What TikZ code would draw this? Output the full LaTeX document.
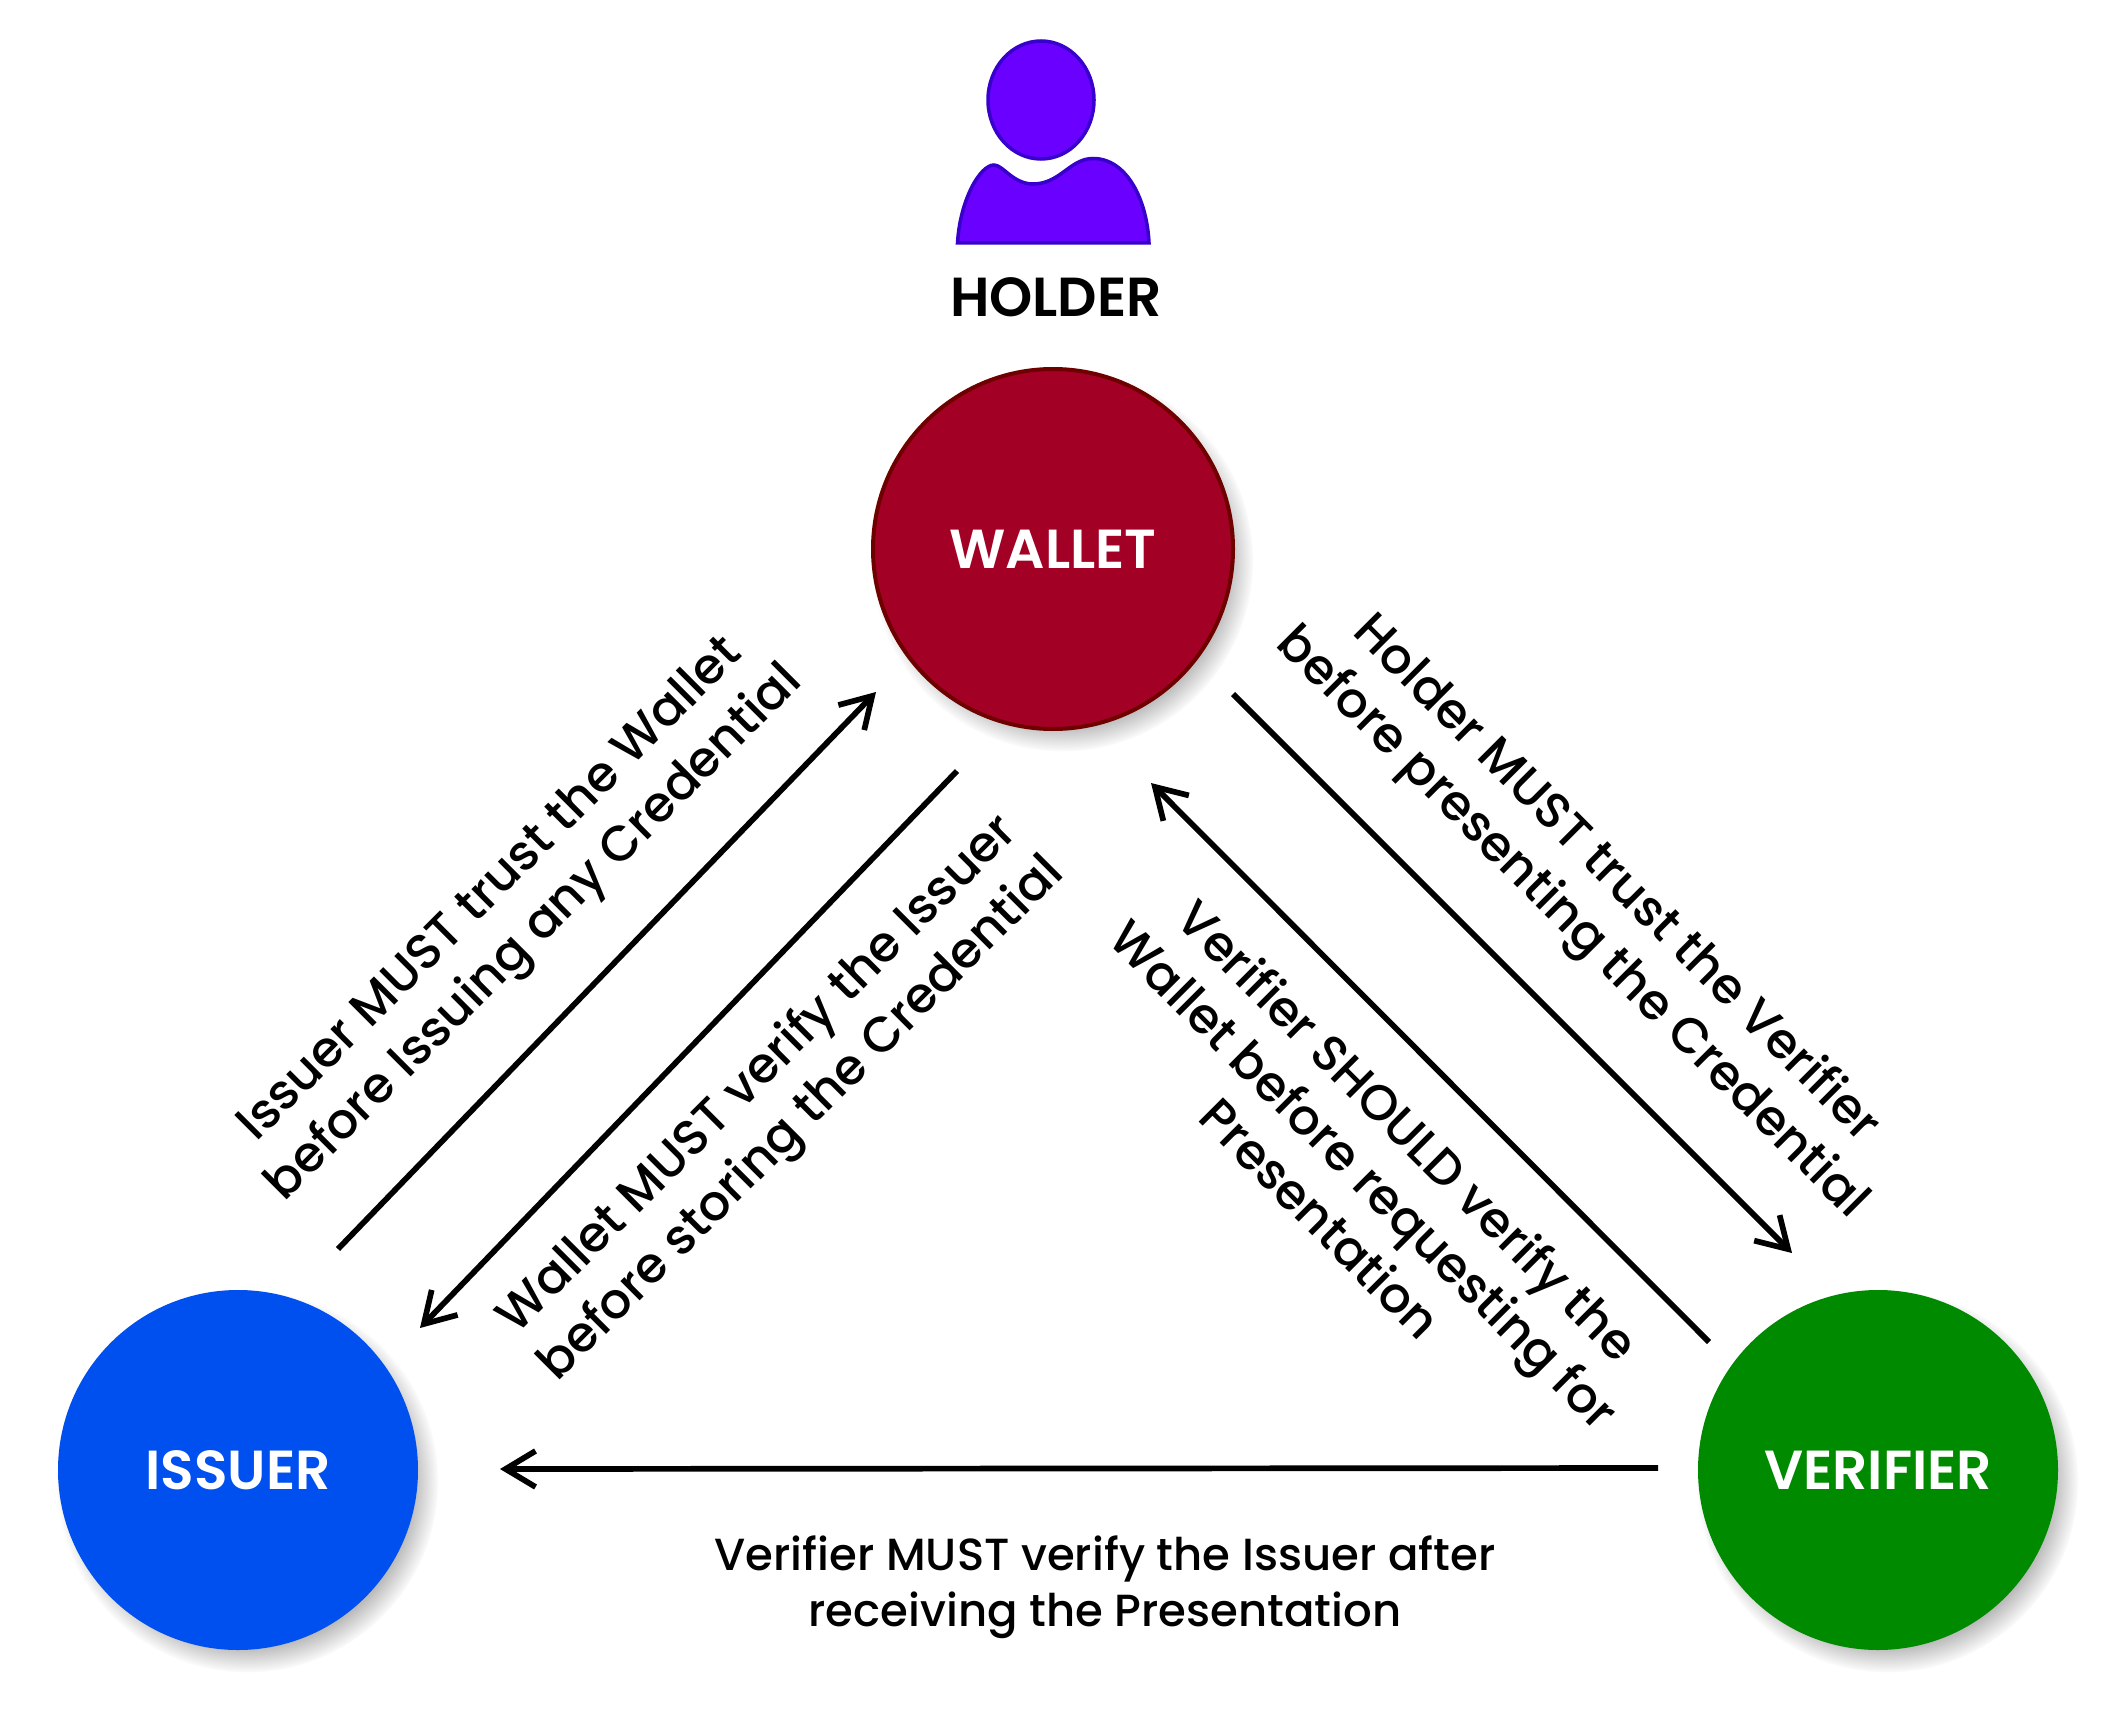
\documentclass[tikz,border=0pt]{standalone}
\usepackage{fontspec}
\setmainfont{Poppins}[UprightFont=*-SemiBold,BoldFont=*-Bold]
\newfontfamily\msgfont{Poppins}[UprightFont=*-Medium,BoldFont=*-SemiBold]
\usetikzlibrary{arrows.meta,shadows,fadings}
\tikzset{
  px/.style={x=1pt,y=-1pt},
  party/.style={circle,minimum size=360pt,inner sep=0pt,outer sep=0pt,text=white,
    font=\fontsize{55}{60}\selectfont,
    circular drop shadow={shadow xshift=9pt,shadow yshift=-11pt,shadow scale=1.06,opacity=.42,fill=black!70}},
  link/.style={line width=5.7pt,-{Straight Barb[length=30pt,width=36pt,line width=5.7pt]}},
  msg/.style={align=center,text=black,inner sep=0pt,font=\msgfont\fontsize{45}{55.5}\selectfont},
  slanted msg/.style={align=center,text=black,inner sep=0pt,font=\msgfont\fontsize{49.5}{62}\selectfont},
  personshape/.style={fill=holderfill,draw=holderline,line width=3.5pt}
}
\definecolor{holderfill}{HTML}{6A00FF}
\definecolor{holderline}{HTML}{3700CC}
\definecolor{walletfill}{HTML}{A20025}
\definecolor{walletline}{HTML}{6F0000}
\definecolor{issuerfill}{HTML}{0050EF}
\definecolor{verifierfill}{HTML}{008A00}
\begin{document}
\begin{tikzpicture}[px]
\useasboundingbox (0,0) rectangle (2120,1720);
\fill[white] (0,0) rectangle (2120,1720);
% holder figure
\draw[personshape] (1041,100) ellipse [x radius=53,y radius=59];
\draw[personshape,miter limit=2] (957.5,243) .. controls (960,200) and (980,165) .. (994,165)
  .. controls (1003,165) and (1013,184) .. (1033,184)
  .. controls (1060,184) and (1070,158.5) .. (1093,158.5)
  .. controls (1127,158.5) and (1147,200) .. (1149,243) -- cycle;
\node[font=\fontsize{55}{60}\selectfont,inner sep=0pt] (holder) at (1056,297) {HOLDER};
% parties
\node[party,fill=walletfill,draw=walletline,line width=4pt] (wallet) at (1053,549) {WALLET};
\node[party,fill=issuerfill] (issuer) at (238,1470) {ISSUER};
\node[party,fill=verifierfill] (verifier) at (1878,1470) {VERIFIER};
% connector ends
\coordinate (a1s) at (338,1249); \coordinate (a1e) at (876,692);
\coordinate (a2s) at (957,771);  \coordinate (a2e) at (420,1328);
\coordinate (a3s) at (1233,694); \coordinate (a3e) at (1792,1253);
\coordinate (a4s) at (1709,1342);\coordinate (a4e) at (1151,783);
\coordinate (a5s) at (1658,1468);\coordinate (a5e) at (500,1469);
\draw[link] (a1s) -- (a1e);
\draw[link] (a2s) -- (a2e);
\draw[link] (a3s) -- (a3e);
\draw[link] (a4s) -- (a4e);
\draw[link] (a5s) -- (a5e);
% labels
\node[slanted msg,rotate=45] (m1) at (514,913) {Issuer MUST trust the Wallet\\before Issuing any Credential};
\node[slanted msg,rotate=45] (m2) at (781,1098) {Wallet MUST verify the Issuer\\before storing the Credential};
\node[slanted msg,rotate=-45] (m3) at (1593,902) {Holder MUST trust the Verifier\\before presenting the Credential};
\node[slanted msg,rotate=-45] (m4) at (1365,1174) {Verifier SHOULD verify the\\Wallet before requesting for\\Presentation};
\node[msg] (m5) at (1105,1587) {Verifier MUST verify the Issuer after\\receiving the Presentation};
\end{tikzpicture}
\end{document}
